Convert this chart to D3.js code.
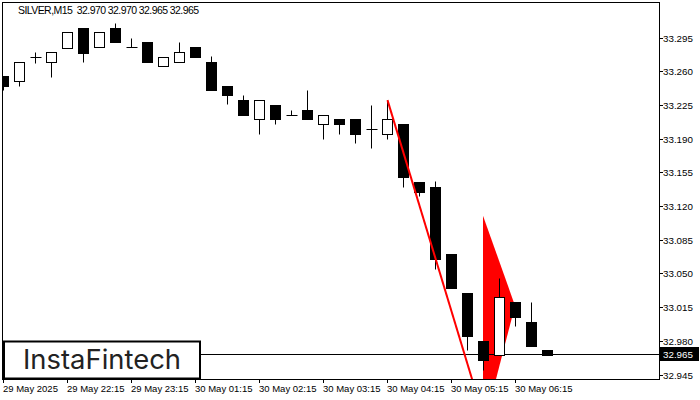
<!DOCTYPE html>
<html><head><meta charset="utf-8">
<script src="https://cdn.jsdelivr.net/npm/d3@7"></script>
<style>
html,body{margin:0;padding:0;background:#fff;}
svg{display:block;}
text{font-family:"Liberation Sans",Arial,sans-serif;}
</style></head>
<body>
<svg id="chart" width="700" height="400"></svg>
<script>
// ---- data ----
const symbolTitle = "SILVER,M15  32.970 32.970 32.965 32.965";
const times = ["29 May 21:15","21:30","21:45","22:00","22:15","22:30","22:45","23:00","23:15","23:30","23:45",
  "30 May 01:00","01:15","01:30","01:45","02:00","02:15","02:30","02:45","03:00","03:15","03:30","03:45","04:00",
  "04:15","04:30","04:45","05:00","05:15","05:30","05:45","06:00","06:15","06:30","06:45"];
const opens  = [33.255,33.250,33.275,33.270,33.284,33.305,33.285,33.305,33.285,33.290,33.265,33.270,33.285,33.270,33.245,33.230,33.210,33.225,33.215,33.220,33.205,33.210,33.210,33.200,33.195,33.205,33.145,33.140,33.070,33.030,32.980,32.965,33.020,33.000,32.970];
const highs  = [33.255,33.270,33.280,33.280,33.301,33.305,33.301,33.310,33.295,33.290,33.275,33.290,33.285,33.276,33.245,33.235,33.230,33.225,33.220,33.240,33.215,33.210,33.210,33.225,33.230,33.205,33.145,33.146,33.070,33.030,32.980,33.045,33.020,33.020,32.970];
const lows   = [33.240,33.245,33.269,33.254,33.284,33.270,33.285,33.290,33.285,33.270,33.265,33.270,33.275,33.240,33.226,33.215,33.195,33.205,33.215,33.210,33.190,33.195,33.185,33.180,33.190,33.140,33.130,33.055,33.035,32.970,32.950,32.965,32.995,32.975,32.965];
const closes = [33.245,33.270,33.275,33.280,33.301,33.279,33.301,33.290,33.285,33.270,33.275,33.280,33.275,33.240,33.235,33.215,33.230,33.210,33.215,33.210,33.215,33.205,33.195,33.200,33.210,33.150,33.135,33.065,33.035,32.985,32.960,33.025,33.005,32.975,32.965];
const priceTicks = [33.295,33.260,33.225,33.190,33.155,33.120,33.085,33.050,33.015,32.980,32.945];
const timeTickIdx = [0,4,8,12,16,20,24,28,32];
const timeTickLabels = ["29 May 2025","29 May 22:15","29 May 23:15","30 May 01:15","30 May 02:15","30 May 03:15","30 May 04:15","30 May 05:15","30 May 06:15"];
const lastPrice = 32.965;
const trendLineIdx = [24, 30];
const trendLinePrice = [33.230, 32.901];
const flagIdx = [30, 32, 30];
const flagPrice = [33.110, 33.0165, 32.888];
const logoText = "InstaFintech";

// ---- layout ----
const svg = d3.select("#chart");
const L = 3, R = 659, T = 3, B = 379;
const x = d3.scaleLinear().domain([0, 34]).range([3.5, 547.5]);
const y = d3.scaleLinear().domain([32.945, 33.295]).range([374.5, 37.5]);

svg.append("defs").append("clipPath").attr("id","plotclip")
  .append("rect").attr("x",L).attr("y",T).attr("width",R-L).attr("height",B-T);

const plot = svg.append("g").attr("clip-path","url(#plotclip)");

// flag (pennant)
plot.append("path")
  .attr("d", d3.line()(flagIdx.map((d,i)=>[x(d)-0.5, y(flagPrice[i])])) + "Z")
  .attr("fill","#ff0000");

// last price line
const ly = Math.round(y(lastPrice)) - 0.5;
plot.append("line").attr("x1",L).attr("x2",R).attr("y1",ly).attr("y2",ly)
  .attr("stroke","#000").attr("stroke-width",1);

// candles
const data = opens.map((o,i)=>({i, o, h:highs[i], l:lows[i], c:closes[i]}));
const cg = plot.append("g");
data.forEach(d=>{
  const cx = x(d.i);
  const yh = Math.round(y(d.h)) + 0.5, yl = Math.round(y(d.l)) + 0.5;
  const yt = Math.round(y(Math.max(d.o,d.c))) + 0.5, yb = Math.round(y(Math.min(d.o,d.c))) + 0.5;
  if (yh < yt) cg.append("line").attr("x1",cx).attr("x2",cx).attr("y1",yh).attr("y2",yt).attr("stroke","#000");
  if (yl > yb) cg.append("line").attr("x1",cx).attr("x2",cx).attr("y1",yb).attr("y2",yl).attr("stroke","#000");
  if (yb - yt < 1) {
    cg.append("line").attr("x1",cx-5).attr("x2",cx+6).attr("y1",yt).attr("y2",yt).attr("stroke","#000");
  } else {
    cg.append("rect").attr("x",cx-5).attr("y",yt).attr("width",10).attr("height",yb-yt)
      .attr("fill", d.c < d.o ? "#000" : "#fff").attr("stroke","#000").attr("stroke-width",1);
  }
});

// trend line
plot.append("line")
  .attr("x1", x(trendLineIdx[0])).attr("y1", y(trendLinePrice[0]))
  .attr("x2", x(trendLineIdx[1])).attr("y2", y(trendLinePrice[1]))
  .attr("stroke","#ff0000").attr("stroke-width",2);

// frame
svg.append("rect").attr("x",L-0.5).attr("y",T-0.5).attr("width",R-L+1).attr("height",B-T+1)
  .attr("fill","none").attr("stroke","#000").attr("stroke-width",1);

// right axis
const ra = svg.append("g");
priceTicks.forEach(p=>{
  const py = Math.round(y(p)) + 0.5;
  ra.append("line").attr("x1",R+0.5).attr("x2",R+4).attr("y1",py).attr("y2",py).attr("stroke","#000");
  ra.append("text").attr("x",R+4).attr("y",py+3.5).attr("font-size","9.8px").attr("fill","#000").text(p.toFixed(3));
});
// last price label
ra.append("rect").attr("x",R+1).attr("y",ly-7.5).attr("width",39).attr("height",14).attr("fill","#000");
ra.append("text").attr("x",R+4).attr("y",ly+3.5).attr("font-size","9.8px").attr("fill","#fff").text(lastPrice.toFixed(3));

// bottom axis
const ba = svg.append("g");
timeTickIdx.forEach((t,k)=>{
  const tx = Math.round(x(t)) - 0.5;
  ba.append("line").attr("x1",tx).attr("x2",tx).attr("y1",B).attr("y2",B+4).attr("stroke","#000");
  ba.append("text").attr("x",tx-0.5).attr("y",392).attr("font-size","9.5px").attr("fill","#000").text(timeTickLabels[k]);
});

// title
svg.append("text").attr("x",18).attr("y",13.5).attr("font-size","10.5px").attr("fill","#000")
  .attr("xml:space","preserve")
  .attr("textLength",181).attr("lengthAdjust","spacing").text(symbolTitle);

// logo
svg.append("rect").attr("x",4).attr("y",341.5).attr("width",196).attr("height",37)
  .attr("fill","#fff").attr("stroke","#000").attr("stroke-width",2);
svg.append("text").attr("x",23).attr("y",369).attr("font-size","27px")
  .style("font-family","Inter, 'Open Sans', sans-serif").attr("font-weight",400)
  .attr("fill","#222").attr("textLength",158).attr("lengthAdjust","spacingAndGlyphs").text(logoText);
</script>
</body></html>
